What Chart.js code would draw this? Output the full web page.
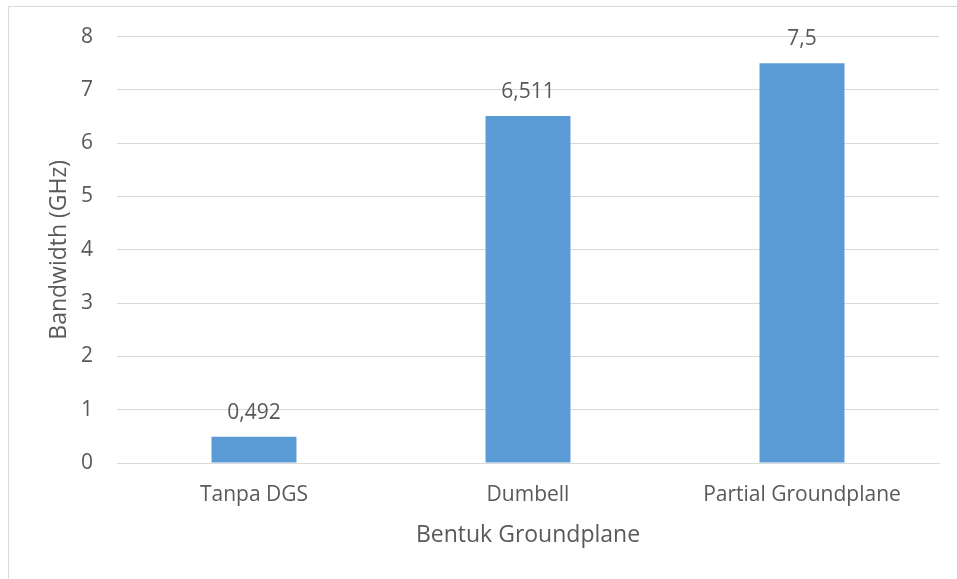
<!DOCTYPE html>
<html>
<head>
<meta charset="utf-8">
<script src="https://cdn.jsdelivr.net/npm/chart.js@4/dist/chart.umd.min.js"></script>
<style>
  html, body { margin: 0; padding: 0; background: #ffffff; }
  #wrap { position: relative; width: 957px; height: 579px; }
</style>
</head>
<body>
<div id="wrap"><canvas id="c" width="957" height="579"></canvas></div>
<script>
const categories = ["Tanpa DGS", "Dumbell", "Partial Groundplane"];
const bandwidth = [0.492, 6.511, 7.5];
const valueLabels = ["0,492", "6,511", "7,5"];
const yTicks = [0, 1, 2, 3, 4, 5, 6, 7, 8];

const FONT = "'Open Sans', 'DejaVu Sans', sans-serif";
const TEXT = "#595959";

const framePlugin = {
  id: 'frame',
  beforeDraw(chart) {
    const ctx = chart.ctx;
    ctx.save();
    ctx.fillStyle = '#ffffff';
    ctx.fillRect(0, 0, chart.width, chart.height);
    ctx.strokeStyle = '#d9d9d9';
    ctx.lineWidth = 1;
    ctx.strokeRect(8.5, 6.5, 2000, 2000);
    ctx.restore();
  }
};

const labelPlugin = {
  id: 'valueLabels',
  afterDatasetsDraw(chart) {
    const ctx = chart.ctx;
    const meta = chart.getDatasetMeta(0);
    ctx.save();
    ctx.font = "21px " + FONT;
    ctx.fillStyle = TEXT;
    ctx.textAlign = 'center';
    ctx.textBaseline = 'middle';
    meta.data.forEach((bar, i) => {
      ctx.fillText(valueLabels[i], bar.x, bar.y - 24);
    });
    ctx.restore();
  }
};

new Chart(document.getElementById('c'), {
  type: 'bar',
  data: {
    labels: categories,
    datasets: [{
      data: bandwidth,
      backgroundColor: '#5b9bd5',
      borderWidth: 0,
      categoryPercentage: 1.0,
      barPercentage: 0.31
    }]
  },
  options: {
    responsive: false,
    animation: false,
    devicePixelRatio: 1,
    layout: { padding: { left: 0, right: 18, top: 35, bottom: 0 } },
    plugins: { legend: { display: false }, tooltip: { enabled: false } },
    scales: {
      x: {
        grid: { display: false, drawTicks: false },
        border: { display: true, color: '#d9d9d9', width: 1 },
        ticks: { color: TEXT, font: { family: FONT, size: 21 }, padding: 19, maxRotation: 0 },
        title: { display: true, text: 'Bentuk Groundplane', color: TEXT, font: { family: FONT, size: 23 }, padding: { top: 6, bottom: 30 } },
        afterFit(scale) { scale.height = 116; }
      },
      y: {
        min: 0, max: 8,
        afterBuildTicks(scale) { scale.ticks = yTicks.map(v => ({ value: v })); },
        grid: { color: '#d9d9d9', lineWidth: 1, drawTicks: false },
        border: { display: false },
        ticks: { color: TEXT, font: { family: FONT, size: 21 }, padding: 24 },
        title: { display: true, text: 'Bandwidth (GHz)', color: TEXT, font: { family: FONT, size: 23 }, padding: { top: 46, bottom: 0 } },
        afterFit(scale) { scale.width = 117; }
      }
    }
  },
  plugins: [framePlugin, labelPlugin]
});
</script>
</body>
</html>
